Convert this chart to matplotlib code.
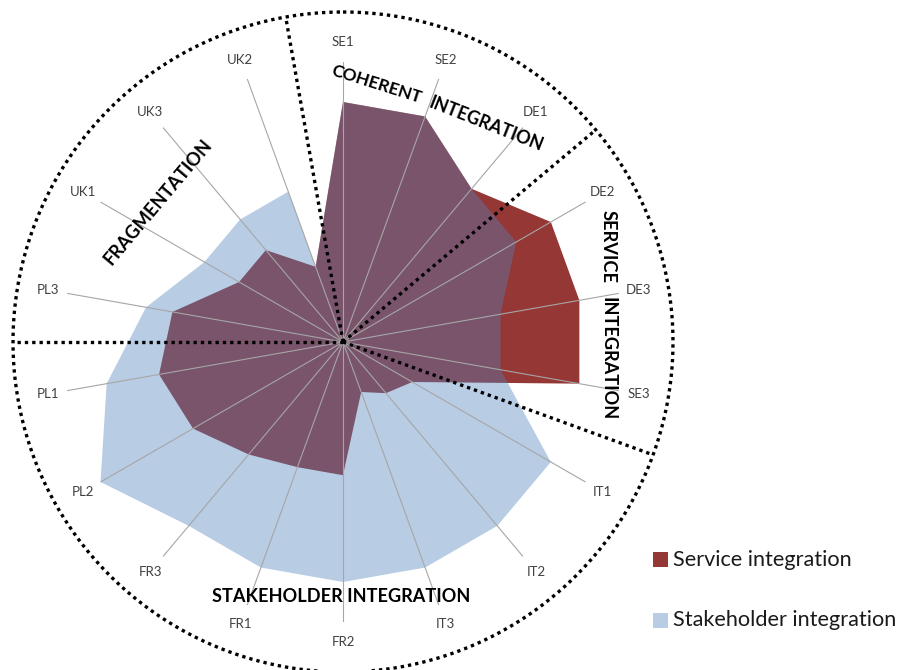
import numpy as np
import matplotlib
matplotlib.use("Agg")
import matplotlib.pyplot as plt
from matplotlib.patches import Rectangle

# ---------------- data ----------------
categories = ['SE1', 'SE2', 'DE1', 'DE2', 'DE3', 'SE3', 'IT1', 'IT2', 'IT3',
              'FR2', 'FR1', 'FR3', 'PL2', 'PL1', 'PL3', 'UK1', 'UK3', 'UK2']
service = [6, 6, 5, 6, 6, 6, 2, 1.67, 1.33, 3.33, 3.33, 3.67, 4.33, 4.67, 4.33, 3, 3, 2]
stakeholder = [6, 6, 5, 5, 4, 4, 6, 6, 6, 6, 6, 6, 7, 6, 5, 4, 4, 4]
stakeholder_uk2_inner = 2          # second point the original draws on the UK2 spoke
r_max = 7
series_names = ['Service integration', 'Stakeholder integration']
section_bounds_deg = [350, 50, 110, 270]   # dotted section dividers (clockwise from top)

# ---------------- style ----------------
W, H = 899, 670
RED = '#953735'
BLUE = '#4F81BD'
BLUE_ALPHA = 0.4
SPOKE = '#a6a6a6'
LABEL = '#404040'
FONT = 'Lato'

fig = plt.figure(figsize=(W / 100, H / 100), dpi=100)
cx, cy, R = 343, 342, 280     # pixel centre and spoke length
ax = fig.add_axes([(cx - R) / W, (H - cy - R) / H, 2 * R / W, 2 * R / H],
                  projection='polar')
ax.set_theta_zero_location('N')
ax.set_theta_direction(-1)
ax.set_ylim(0, r_max)
ax.axis('off')

n = len(categories)
angles = np.arange(n) * 2 * np.pi / n

# service series (solid)
ax.fill(angles, service, color=RED, lw=0, zorder=1)
# stakeholder series (transparent, on top)
blue_theta = list(angles) + [angles[-1]]
blue_r = list(stakeholder) + [stakeholder_uk2_inner]
ax.fill(blue_theta, blue_r, color=BLUE, alpha=BLUE_ALPHA, lw=0, zorder=2)

# spokes
for a in angles:
    ax.plot([a, a], [0, r_max], color=SPOKE, lw=0.8, zorder=3)

# category labels
for a, c in zip(angles, categories):
    ax.text(a, r_max * 300 / 280, c, ha='center', va='center',
            fontsize=9.5, color=LABEL, family=FONT, zorder=5)

# dotted circle and section dividers
r_circle = r_max * 330 / R
dot_kw = dict(color='black', lw=2.4, linestyle=(0, (1, 1.2)),
              dash_capstyle='butt', clip_on=False, zorder=4)
tt = np.linspace(0, 2 * np.pi, 721)
ax.plot(tt, np.full_like(tt, r_circle), **dot_kw)
for b in section_bounds_deg:
    th = np.deg2rad(b)
    ax.plot([th, th], [0, r_circle], **dot_kw)

# ---------------- text helpers ----------------
fig.canvas.draw()
renderer = fig.canvas.get_renderer()


def fit_text(x_px, y_px, s, width_px, rotation=0, ha='center', **kw):
    t = fig.text(x_px / W, 1 - y_px / H, s, fontsize=10, ha=ha, va='center',
                 rotation=0, rotation_mode='anchor', **kw)
    w = t.get_window_extent(renderer).width
    t.set_fontsize(10 * width_px / w)
    t.set_rotation(rotation)
    return t


bold = dict(family=FONT, weight='bold', color='black', zorder=6)
fit_text(377, 84, 'COHERENT', 94, rotation=-17.5, **bold)
fit_text(486, 124, 'INTEGRATION', 121, rotation=-21.5, **bold)
fit_text(608, 246, 'SERVICE', 73, rotation=-90, **bold)
fit_text(608, 359, 'INTEGRATION', 123, rotation=-90, **bold)
fit_text(158, 202, 'FRAGMENTATION', 158, rotation=50, **bold)
fit_text(341, 597, 'STAKEHOLDER INTEGRATION', 258, rotation=0, **bold)

# ---------------- legend ----------------
leg_colors = [(RED, 1.0), (BLUE, BLUE_ALPHA)]
leg_y = [559.5, 620.5]
t0 = fit_text(673, leg_y[0], series_names[0], 179, ha='left',
              family=FONT, color='#1a1a1a')
fs = t0.get_fontsize()
fig.text(673 / W, 1 - leg_y[1] / H, series_names[1], fontsize=fs, ha='left',
         va='center', family=FONT, color='#1a1a1a')
for (col, al), y in zip(leg_colors, leg_y):
    fig.add_artist(Rectangle((653 / W, 1 - (y + 7.5) / H), 15 / W, 15 / H,
                             transform=fig.transFigure, facecolor=col,
                             alpha=al, lw=0))

fig.savefig('out.png', dpi=100)
